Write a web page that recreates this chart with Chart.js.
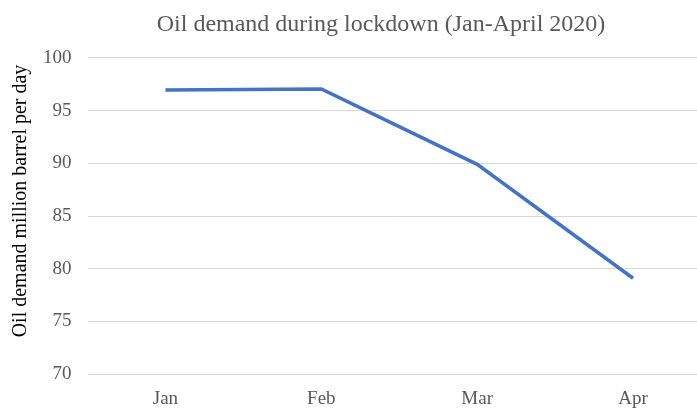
<!DOCTYPE html>
<html>
<head>
<meta charset="utf-8">
<script src="https://cdn.jsdelivr.net/npm/chart.js@4.4.1/dist/chart.umd.min.js"></script>
<style>
  html, body { margin: 0; padding: 0; background: #fff; overflow: hidden; }
  #wrap { width: 711px; height: 408px; position: relative; }
</style>
</head>
<body>
<div id="wrap"><canvas id="c"></canvas></div>
<script>
// Monthly global oil demand, million barrels per day
const months = ['Jan', 'Feb', 'Mar', 'Apr'];
const demand = [96.95, 97.05, 89.9, 79.1];
const yTicks = [70, 75, 80, 85, 90, 95, 100];

const serif = "'Liberation Serif', 'Times New Roman', serif";

// Centre the chart title over the visible page rather than the wider canvas
const titleShift = {
  id: 'titleShift',
  afterLayout(chart) {
    const t = chart.titleBlock;
    if (t) { t.left += 21; t.right += 21; }
  }
};

new Chart(document.getElementById('c'), {
  type: 'line',
  data: {
    labels: months,
    datasets: [{
      label: 'Oil demand',
      data: demand,
      borderColor: '#4472C4',
      borderWidth: 3.5,
      pointRadius: 0,
      tension: 0,
      fill: false
    }]
  },
  plugins: [titleShift],
  options: {
    responsive: true,
    maintainAspectRatio: false,
    animation: false,
    layout: { padding: { top: 8, left: 9, right: 0, bottom: -15 } },
    plugins: {
      legend: { display: false },
      tooltip: { enabled: false },
      title: {
        display: true,
        text: 'Oil demand during lockdown (Jan-April 2020)',
        color: '#595959',
        font: { family: serif, size: 24, weight: 'normal' },
        padding: { top: 2, bottom: 19 },
        align: 'center'
      }
    },
    scales: {
      x: {
        offset: true,
        grid: { display: false, drawTicks: false },
        border: { display: false },
        ticks: {
          color: '#595959',
          font: { family: serif, size: 19 },
          padding: 13
        }
      },
      y: {
        min: 70,
        max: 100,
        afterBuildTicks: (axis) => { axis.ticks = yTicks.map(v => ({ value: v })); },
        grid: { color: '#d9d9d9', lineWidth: 1, drawTicks: false },
        border: { display: false },
        ticks: {
          color: '#595959',
          font: { family: serif, size: 19 },
          padding: 16
        },
        title: {
          display: true,
          // leading spaces lift the rotated label towards the canvas middle
          text: '      Oil demand million barrel per day',
          color: '#000',
          font: { family: serif, size: 20 },
          padding: { top: 0, bottom: -6 }
        }
      }
    }
  }
});
</script>
</body>
</html>
